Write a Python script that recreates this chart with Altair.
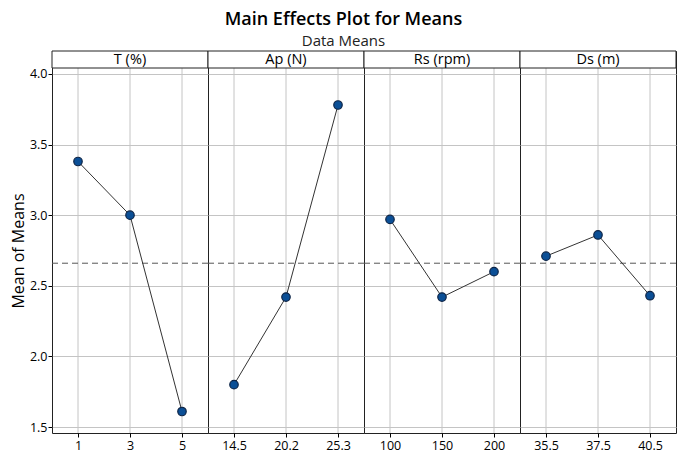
import altair as alt
import pandas as pd

factors = ["T (%)", "Ap (N)", "Rs (rpm)", "Ds (m)"]
levels = [["1", "3", "5"], ["14.5", "20.2", "25.3"], ["100", "150", "200"], ["35.5", "37.5", "40.5"]]
means = [[3.38, 3.00, 1.61], [1.80, 2.42, 3.78], [2.97, 2.42, 2.60], [2.71, 2.86, 2.43]]
grand_mean = 2.66
y_ticks = [1.5, 2.0, 2.5, 3.0, 3.5, 4.0]
y_domain = [1.458, 4.042]

FONT = "Open Sans"
W = 156
H = 365
HH = 17
GRID = "#c4c4c4"

panels = []
for i, (fac, lev, mv) in enumerate(zip(factors, levels, means)):
    df = pd.DataFrame({"level": lev, "mean": mv})
    first = i == 0
    yscale = alt.Scale(domain=y_domain, nice=False, zero=False, range=[H + HH, HH])
    xscale = alt.Scale(type="point", padding=0.5)
    x = alt.X("level:N", sort=None, scale=xscale,
              axis=alt.Axis(title=None, labelAngle=0, grid=False,
                            domain=False, tickColor="black", tickSize=4,
                            labelFontSize=12.5, labelColor="black", labelPadding=2,
                            labelFont=FONT))
    if first:
        yaxis = alt.Axis(values=y_ticks, format=".1f", title="Mean of Means",
                         domain=False, grid=True, gridColor=GRID,
                         tickColor="black", tickSize=4,
                         labelFontSize=12.5, labelColor="black", labelPadding=1,
                         labelFont=FONT, titleFont=FONT, titleFontSize=16,
                         titleFontWeight="normal", titleColor="black", titlePadding=3)
    else:
        yaxis = alt.Axis(values=y_ticks, title=None, labels=False, ticks=False,
                         domain=False, grid=True, gridColor=GRID,
                         minExtent=0, maxExtent=0, offset=0)
    y = alt.Y("mean:Q", scale=yscale, axis=yaxis)
    base = alt.Chart(df)
    vgrid = base.mark_rule(color=GRID, strokeWidth=1).encode(
        x=x, y=alt.value(HH), y2=alt.value(H + HH))
    rule = alt.Chart(pd.DataFrame({"mean": [grand_mean]})).mark_rule(
        color="#555555", strokeDash=[6, 4], strokeWidth=1
    ).encode(y=y)
    line = base.mark_line(color="#333333", strokeWidth=1).encode(x=x, y=y)
    pts = base.mark_point(filled=True, size=72, fill="#0b4f96", stroke="#0e2547",
                          strokeWidth=1.2, opacity=1).encode(x=x, y=y)
    hdr = alt.Chart(pd.DataFrame({"f": [fac]}))
    hbox = hdr.mark_rect(fill="white", stroke="#222222", strokeWidth=1).encode(
        x=alt.value(0), x2=alt.value(W), y=alt.value(0), y2=alt.value(HH))
    htext = hdr.mark_text(fontSize=14.5, font=FONT, color="black", baseline="middle",
                          align="center").encode(
        text="f:N", x=alt.value(W / 2), y=alt.value(HH / 2 + 0.5))
    panels.append(alt.layer(vgrid, rule, line, pts, hbox, htext).properties(width=W, height=H + HH))

chart = alt.hconcat(*panels, spacing=0, bounds="flush").properties(
    title=alt.TitleParams("Main Effects Plot for Means", subtitle="Data Means",
                          font=FONT, fontSize=18, fontWeight=600, color="black",
                          subtitleFont=FONT, subtitleFontSize=15, subtitleColor="#222222",
                          anchor="middle", frame="bounds", offset=1, subtitlePadding=5),
    padding={"left": 1, "top": 3, "right": 0, "bottom": 0},
).configure_view(stroke="#222222", strokeWidth=1)

chart.save("out.html", embed_options={"renderer": "svg", "actions": False})
